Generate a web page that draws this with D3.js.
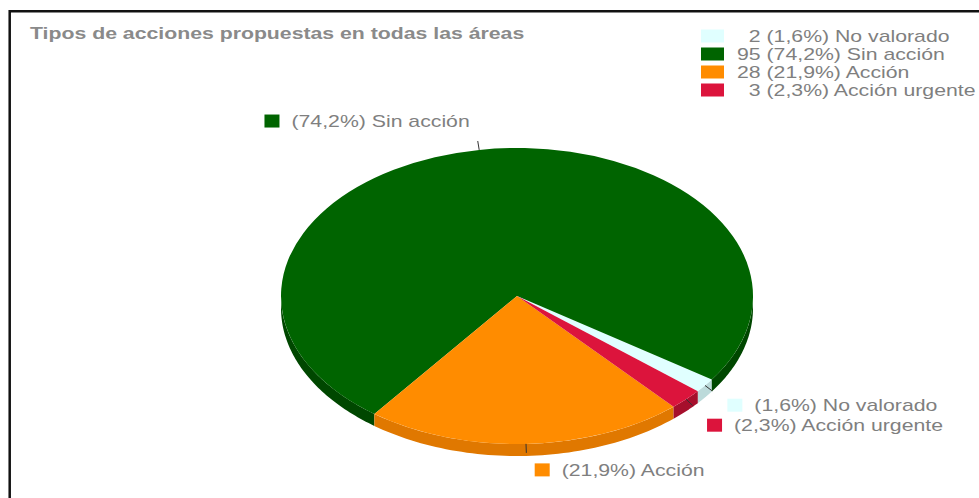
<!DOCTYPE html>
<html>
<head>
<meta charset="utf-8">
<script src="https://cdn.jsdelivr.net/npm/d3@7"></script>
<style>
  html, body { margin: 0; padding: 0; background: #fff; }
  svg { display: block; }
</style>
</head>
<body>
<script>
// ---- data ----
const chartTitle = "Tipos de acciones propuestas en todas las áreas";
const categories = ["No valorado", "Sin acción", "Acción", "Acción urgente"];
const counts = [2, 95, 28, 3];
const topColors = ["#e0ffff", "#006400", "#ff8c00", "#dc143c"];
const sideColors = ["#bcdada", "#004700", "#e07800", "#a60f2c"];

// ---- layout ----
const W = 979, H = 498;
const cx = 517, cy = 296, rx = 236, ry = 148, depth = 12;
const startDeg = 130;              // d3 angle of the first slice edge
const fontFamily = "'Liberation Sans', Arial, sans-serif";
const fontSize = 17;
const stretch = 1.25;              // horizontal text scale
const textColor = "#7f7f7f";
const labelGap = 20;               // minimum vertical distance between slice labels

const total = d3.sum(counts);
const pctFmt = v => d3.format(".1f")(v * 100 / total).replace(".", ",") + "%";

const svg = d3.select("body").append("svg")
  .attr("width", W).attr("height", H);

// frame (open to the right and bottom)
svg.append("path")
  .attr("d", `M9.7,${H + 5} L9.7,11.3 L${W + 5},11.3`)
  .attr("fill", "none").attr("stroke", "#111").attr("stroke-width", 2.5);

// text helper with horizontal stretch
function stretchedText(sel, x, y, str, opts = {}) {
  return sel.append("text")
    .attr("transform", `translate(${x},${y}) scale(${stretch},1)`)
    .attr("font-family", fontFamily)
    .attr("font-size", opts.size || fontSize)
    .attr("font-weight", opts.weight || "normal")
    .attr("fill", opts.fill || textColor)
    .attr("text-anchor", opts.anchor || "start")
    .attr("dy", "0.35em")
    .text(str);
}

// title
stretchedText(svg, 30, 33, chartTitle, { weight: "bold", fill: "#8a8a8a" });

// ---- pie ----
const pie = d3.pie().sort(null).value(d => d)
  .startAngle(startDeg * Math.PI / 180)
  .endAngle(startDeg * Math.PI / 180 - 2 * Math.PI);
const arcs = pie(counts);

const ex = t => cx + rx * Math.cos(t);
const ey = t => cy + ry * Math.sin(t);

// side walls of the lower half
const sideG = svg.append("g");
arcs.forEach((a, i) => {
  const t0 = a.startAngle - Math.PI / 2, t1 = a.endAngle - Math.PI / 2;
  const lo = Math.min(t0, t1), hi = Math.max(t0, t1);
  for (let k = -2; k <= 2; k++) {
    const s = Math.max(lo, 2 * Math.PI * k), e = Math.min(hi, 2 * Math.PI * k + Math.PI);
    if (e <= s) continue;
    const n = 60;
    const ts = d3.range(n + 1).map(j => s + (e - s) * j / n);
    const pts = ts.map(t => [ex(t), ey(t)])
      .concat(ts.slice().reverse().map(t => [ex(t), ey(t) + depth]));
    sideG.append("path")
      .attr("d", d3.line()(pts) + "Z")
      .attr("fill", sideColors[i]);
  }
});

// top faces
const arcGen = d3.arc().innerRadius(0).outerRadius(rx);
svg.append("g")
  .attr("transform", `translate(${cx},${cy}) scale(1,${ry / rx})`)
  .selectAll("path").data(arcs).join("path")
  .attr("d", arcGen)
  .attr("fill", (d, i) => topColors[i]);

// slice labels with small leader ticks
const labelG = svg.append("g");
const labels = arcs.map((a, i) => {
  const tm = (a.startAngle + a.endAngle) / 2 - Math.PI / 2;
  const c = Math.cos(tm), s = Math.sin(tm);
  const x0 = ex(tm), y0 = ey(tm);
  const x1 = x0 + 9 * c, y1 = y0 + 9 * s;
  return { i, c, s, x0, y0, x1, y1, yc: s < 0 ? y1 - 20 : y1 + 17 };
});

// spread labels on the same side that sit too close together
[true, false].forEach(right => {
  const side = labels.filter(l => (l.c >= 0) === right).sort((a, b) => a.yc - b.yc);
  for (let iter = 0; iter < 20; iter++) {
    for (let j = 1; j < side.length; j++) {
      const d = side[j].yc - side[j - 1].yc;
      if (d < labelGap) {
        const m = (labelGap - d) / 2;
        side[j - 1].yc -= m;
        side[j].yc += m;
      }
    }
  }
});

labels.forEach(l => {
  const i = l.i;
  labelG.append("line")
    .attr("x1", l.x0).attr("y1", l.y0).attr("x2", l.x1).attr("y2", l.y1)
    .attr("stroke", "#333").attr("stroke-width", 1);

  const str = `(${pctFmt(counts[i])}) ${categories[i]}`;
  if (l.c >= 0) {
    const sx = l.x1 + 8 + 9 * l.c;
    labelG.append("rect").attr("x", sx).attr("y", l.yc - 6.5)
      .attr("width", 15).attr("height", 13).attr("fill", topColors[i]);
    stretchedText(labelG, sx + 27, l.yc, str);
  } else {
    const endX = l.x1 - 8;
    const t = stretchedText(labelG, endX, l.yc, str, { anchor: "end" });
    const w = t.node().getComputedTextLength() * stretch;
    labelG.append("rect").attr("x", endX - w - 27).attr("y", l.yc - 6.5)
      .attr("width", 15).attr("height", 13).attr("fill", topColors[i]);
  }
});

// legend
const legendG = svg.append("g");
const digitW = 0.556 * fontSize * stretch;
const maxDigits = d3.max(counts, d => String(d).length);
counts.forEach((v, i) => {
  const yc = 36 + i * 18;
  legendG.append("rect").attr("x", 701).attr("y", yc - 6.5)
    .attr("width", 23).attr("height", 13).attr("fill", topColors[i]);
  const pad = (maxDigits - String(v).length) * digitW;
  stretchedText(legendG, 737 + pad, yc, `${v} (${pctFmt(v)}) ${categories[i]}`);
});
</script>
</body>
</html>
